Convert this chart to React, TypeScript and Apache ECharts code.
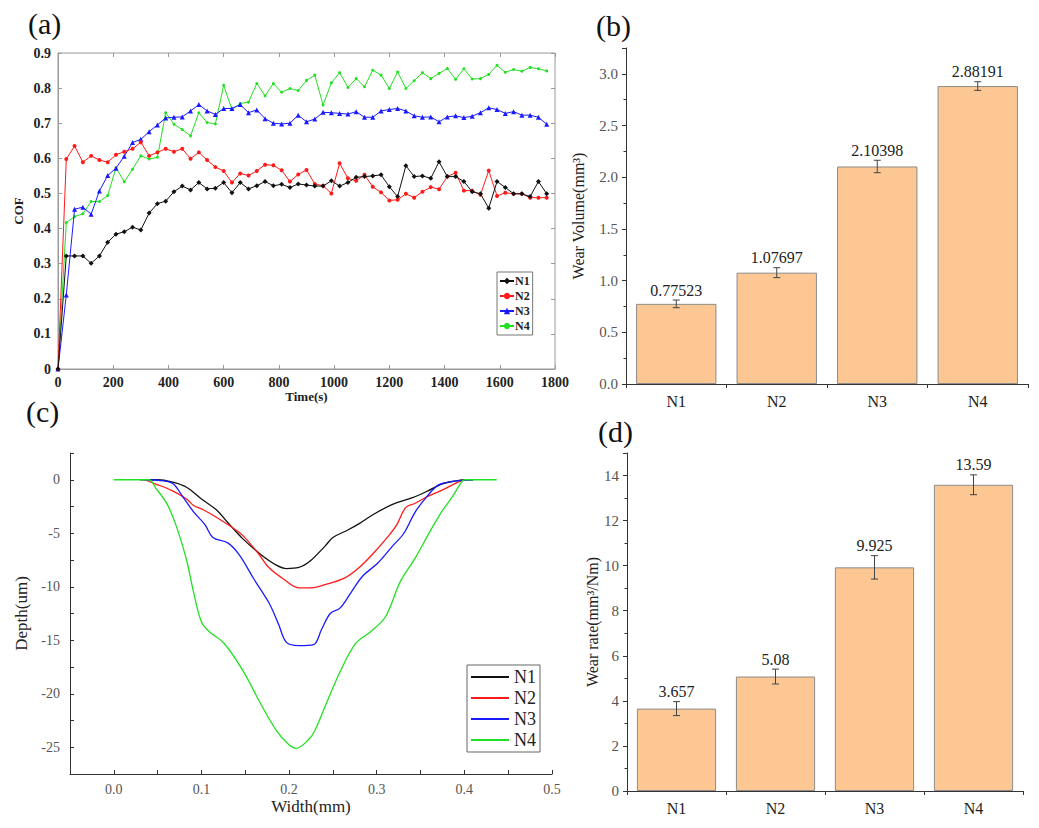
import React, { useEffect, useRef } from 'react';
import * as echarts from 'echarts';

// ---------- (a) COF vs time ----------
const TIME = [0, 30, 60, 90, 120, 150, 180, 210, 240, 270, 300, 330, 360, 390, 420, 450, 480, 510, 540, 570,
  600, 630, 660, 690, 720, 750, 780, 810, 840, 870, 900, 930, 960, 990, 1020, 1050, 1080, 1110, 1140, 1170,
  1200, 1230, 1260, 1290, 1320, 1350, 1380, 1410, 1440, 1470, 1500, 1530, 1560, 1590, 1620, 1650, 1680, 1710, 1740, 1770];

const COF_N1 = [0, 0.322, 0.322, 0.322, 0.301, 0.322, 0.361, 0.384, 0.391, 0.404,
  0.396, 0.444, 0.471, 0.478, 0.505, 0.521, 0.51, 0.531, 0.513, 0.515,
  0.531, 0.502, 0.531, 0.513, 0.522, 0.534, 0.522, 0.526, 0.517, 0.527,
  0.524, 0.521, 0.521, 0.536, 0.521, 0.531, 0.546, 0.548, 0.55, 0.553,
  0.519, 0.491, 0.579, 0.548, 0.55, 0.543, 0.59, 0.548, 0.548, 0.534,
  0.505, 0.499, 0.458, 0.534, 0.517, 0.499, 0.499, 0.491, 0.534, 0.499];

const COF_N2 = [0, 0.598, 0.635, 0.589, 0.607, 0.595, 0.589, 0.61, 0.619, 0.627,
  0.646, 0.607, 0.617, 0.627, 0.619, 0.627, 0.599, 0.617, 0.595, 0.575,
  0.564, 0.531, 0.557, 0.551, 0.564, 0.582, 0.58, 0.566, 0.534, 0.554,
  0.567, 0.527, 0.522, 0.5, 0.586, 0.543, 0.536, 0.553, 0.519, 0.503,
  0.48, 0.482, 0.499, 0.488, 0.505, 0.518, 0.512, 0.548, 0.559, 0.508,
  0.508, 0.496, 0.565, 0.493, 0.502, 0.499, 0.499, 0.488, 0.488, 0.488];

const COF_N3 = [0, 0.211, 0.455, 0.461, 0.441, 0.507, 0.551, 0.572, 0.606, 0.645,
  0.654, 0.676, 0.695, 0.715, 0.717, 0.718, 0.735, 0.753, 0.735, 0.725,
  0.742, 0.742, 0.753, 0.73, 0.738, 0.713, 0.7, 0.698, 0.7, 0.723,
  0.704, 0.712, 0.731, 0.73, 0.728, 0.726, 0.733, 0.717, 0.717, 0.735,
  0.739, 0.742, 0.735, 0.721, 0.717, 0.718, 0.704, 0.718, 0.721, 0.716,
  0.72, 0.73, 0.744, 0.739, 0.728, 0.733, 0.723, 0.723, 0.717, 0.697];

const COF_N4 = [0, 0.417, 0.434, 0.442, 0.477, 0.477, 0.494, 0.573, 0.533, 0.569,
  0.607, 0.598, 0.603, 0.73, 0.697, 0.682, 0.664, 0.73, 0.702, 0.698,
  0.808, 0.739, 0.756, 0.76, 0.813, 0.778, 0.813, 0.788, 0.799, 0.793,
  0.822, 0.837, 0.752, 0.815, 0.844, 0.802, 0.827, 0.804, 0.851, 0.837,
  0.799, 0.846, 0.799, 0.821, 0.844, 0.827, 0.842, 0.856, 0.825, 0.855,
  0.826, 0.827, 0.839, 0.865, 0.845, 0.853, 0.848, 0.859, 0.855, 0.849];

// ---------- (b) wear volume ----------
const SAMPLES = ['N1', 'N2', 'N3', 'N4'];
const VOLUME = [0.77523, 1.07697, 2.10398, 2.88191];
const VOLUME_ERR = [0.037, 0.048, 0.06, 0.042];

// ---------- (c) wear track profiles [width mm, depth um] ----------
const PROFILE_N1 = [[0.03, 0], [0.05, 0], [0.066, -0.2], [0.083, -0.7], [0.1, -1.8], [0.117, -2.8], [0.13, -4.0],
  [0.147, -5.5], [0.168, -7.0], [0.186, -8.0], [0.197, -8.3], [0.211, -8.2], [0.224, -7.6], [0.241, -6.2],
  [0.25, -5.4], [0.267, -4.7], [0.28, -4.1], [0.297, -3.2], [0.318, -2.3], [0.34, -1.7], [0.357, -1.1],
  [0.374, -0.4], [0.391, -0.1], [0.4, 0], [0.41, 0]];
const PROFILE_N2 = [[0.035, 0], [0.048, -0.4], [0.066, -1.0], [0.083, -1.8], [0.091, -2.4], [0.102, -2.8],
  [0.117, -3.5], [0.134, -4.4], [0.147, -5.2], [0.164, -6.8], [0.177, -8.2], [0.194, -9.3], [0.211, -10.1],
  [0.224, -10.1], [0.241, -9.8], [0.263, -9.2], [0.28, -8.2], [0.297, -6.8], [0.314, -5.2], [0.323, -4.2],
  [0.333, -2.6], [0.344, -2.2], [0.357, -1.6], [0.374, -1.0], [0.391, -0.3], [0.4, 0]];
const PROFILE_N3 = [[0.035, 0], [0.057, -0.1], [0.068, -0.4], [0.078, -1.5], [0.091, -3.0], [0.104, -4.2],
  [0.113, -5.4], [0.13, -5.9], [0.143, -7.0], [0.16, -9.3], [0.177, -11.5], [0.188, -13.5], [0.197, -15.2],
  [0.211, -15.5], [0.228, -15.4], [0.237, -14.0], [0.247, -12.5], [0.258, -12.0], [0.271, -10.5], [0.284, -9.0],
  [0.301, -7.8], [0.318, -6.2], [0.331, -5.0], [0.344, -3.0], [0.357, -1.6], [0.37, -0.5], [0.383, -0.2],
  [0.4, -0.05], [0.41, 0]];
const PROFILE_N4 = [[0.0, 0], [0.04, 0], [0.048, -0.8], [0.061, -2.3], [0.072, -4.5], [0.083, -7.5], [0.091, -10.5],
  [0.1, -13.3], [0.109, -14.2], [0.126, -15.3], [0.147, -17.8], [0.168, -21.0], [0.186, -23.5], [0.199, -24.7],
  [0.208, -25.1], [0.221, -24.4], [0.229, -23.5], [0.242, -21.0], [0.259, -17.8], [0.276, -15.3], [0.293, -14.2],
  [0.31, -12.8], [0.327, -9.5], [0.344, -7.3], [0.361, -4.8], [0.374, -3.0], [0.387, -1.5], [0.396, -0.3],
  [0.4, 0], [0.437, 0]];

// ---------- (d) wear rate ----------
const RATE = [3.657, 5.08, 9.925, 13.59];
const RATE_ERR = [0.31, 0.33, 0.52, 0.44];

const SERIF = '"Liberation Serif", "Times New Roman", serif';
const COLORS = ['#111111', '#ff1a1a', '#1a1aff', '#22e022'];

const isMult = (v: number, step: number) => Math.abs(v / step - Math.round(v / step)) < 1e-6;

function errorSeries(xi: number, yi: number, vals: number[], errs: number[]) {
  return {
    type: 'custom',
    xAxisIndex: xi,
    yAxisIndex: yi,
    z: 10,
    silent: true,
    data: vals.map((v, i) => [i, v - errs[i], v + errs[i], v]),
    renderItem: (params: any, api: any) => {
      const i = api.value(0);
      const lo = api.coord([i, api.value(1)]);
      const hi = api.coord([i, api.value(2)]);
      const hw = 3.5;
      const st = { stroke: '#444', lineWidth: 1 };
      return {
        type: 'group',
        children: [
          { type: 'line', shape: { x1: lo[0], y1: lo[1], x2: hi[0], y2: hi[1] }, style: st },
          { type: 'line', shape: { x1: lo[0] - hw, y1: lo[1], x2: lo[0] + hw, y2: lo[1] }, style: st },
          { type: 'line', shape: { x1: hi[0] - hw, y1: hi[1], x2: hi[0] + hw, y2: hi[1] }, style: st },
          {
            type: 'text', x: hi[0], y: hi[1] - 2,
            style: {
              text: String(vals[i]), align: 'center', verticalAlign: 'bottom',
              fontSize: 16, fontFamily: SERIF, fill: '#222',
            },
          },
        ],
      };
    },
  };
}

function buildOption() {
  const pair = (arr: number[]) => arr.map((v, i) => [TIME[i], v]);
  const cofSeries = [COF_N1, COF_N2, COF_N3, COF_N4].map((arr, k) => ({
    name: SAMPLES[k],
    type: 'line',
    xAxisIndex: 0,
    yAxisIndex: 0,
    data: pair(arr),
    symbol: ['diamond', 'circle', 'triangle', 'circle'][k],
    symbolSize: [5, 4, 5, 3][k],
    lineStyle: { width: 1, color: COLORS[k] },
    itemStyle: { color: COLORS[k] },
    z: 5 - k,
  }));
  const profSeries = [PROFILE_N1, PROFILE_N2, PROFILE_N3, PROFILE_N4].map((arr, k) => ({
    name: 'c-' + SAMPLES[k],
    type: 'line',
    xAxisIndex: 3,
    yAxisIndex: 3,
    data: arr,
    smooth: 0.35,
    symbol: 'none',
    lineStyle: { width: 1.3, color: COLORS[k] },
    itemStyle: { color: COLORS[k] },
  }));

  const aLabel = { fontFamily: SERIF, fontWeight: 'bold', fontSize: 14, color: '#222' };
  const grayLabel = { fontFamily: SERIF, fontSize: 15, color: '#555' };
  const lineDark = { lineStyle: { color: '#333', width: 1 } };
  const lineGray = { lineStyle: { color: '#9a9a9a', width: 1 } };

  return {
    animation: false,
    backgroundColor: '#ffffff',
    graphic: [
      { type: 'text', left: 28, top: 8, style: { text: '(a)', fontSize: 30, fontFamily: SERIF, fill: '#111' } },
      { type: 'text', left: 596, top: 10, style: { text: '(b)', fontSize: 30, fontFamily: SERIF, fill: '#111' } },
      { type: 'text', left: 26, top: 396, style: { text: '(c)', fontSize: 30, fontFamily: SERIF, fill: '#111' } },
      { type: 'text', left: 598, top: 416, style: { text: '(d)', fontSize: 30, fontFamily: SERIF, fill: '#111' } },
    ],
    grid: [
      { left: 58, top: 53, width: 497, height: 316, show: true, borderColor: '#9a9a9a', borderWidth: 1, backgroundColor: 'transparent' },
      { left: 626, top: 48, width: 402, height: 336 },
      { left: 70, top: 453, width: 482, height: 321 },
      { left: 627, top: 453, width: 396, height: 338 },
    ],
    legend: [
      {
        data: SAMPLES,
        orient: 'vertical',
        left: 497,
        top: 272,
        padding: [3, 3, 3, 2],
        itemGap: 3,
        itemWidth: 14,
        itemHeight: 8,
        borderColor: '#777',
        borderWidth: 1,
        backgroundColor: '#fff',
        textStyle: { fontFamily: SERIF, fontSize: 12, fontWeight: 'bold', color: '#222', padding: [0, 0, 0, -4] },
        selectedMode: false,
      },
      {
        data: SAMPLES.map((s) => ({ name: 'c-' + s, icon: 'rect' })),
        formatter: (name: string) => name.replace('c-', ''),
        orient: 'vertical',
        left: 467,
        top: 665,
        padding: [3, 4, 3, 4],
        itemGap: 3,
        itemWidth: 38,
        itemHeight: 2,
        borderColor: '#666',
        borderWidth: 1,
        backgroundColor: '#fff',
        textStyle: { fontFamily: SERIF, fontSize: 18, color: '#222', lineHeight: 18 },
        selectedMode: false,
      },
    ],
    xAxis: [
      {
        gridIndex: 0, type: 'value', min: 0, max: 1800, interval: 200,
        name: 'Time(s)', nameLocation: 'middle', nameGap: 17,
        nameTextStyle: { fontFamily: SERIF, fontWeight: 'bold', fontSize: 13, color: '#222' },
        axisLine: { show: true, onZero: false, ...lineGray },
        axisTick: { show: true, inside: true, length: 4, ...lineGray },
        axisLabel: { ...aLabel, margin: 6, formatter: (v: number) => String(v) },
        splitLine: { show: false },
      },
      {
        gridIndex: 0, type: 'value', min: 0, max: 1800, interval: 200, position: 'top',
        axisLine: { show: false, onZero: false },
        axisTick: { show: true, inside: true, length: 4, ...lineGray },
        axisLabel: { show: false },
        splitLine: { show: false },
      },
      {
        gridIndex: 1, type: 'category', data: SAMPLES,
        axisLine: { show: true, ...lineDark },
        axisTick: { show: true, alignWithLabel: false, length: 4, ...lineDark },
        axisLabel: { fontFamily: SERIF, fontSize: 16, color: '#222', margin: 9 },
        splitLine: { show: false },
      },
      {
        gridIndex: 2, type: 'value', min: -0.05, max: 0.5, interval: 0.05,
        name: 'Width(mm)', nameLocation: 'middle', nameGap: 24,
        nameTextStyle: { fontFamily: SERIF, fontSize: 17, color: '#222' },
        axisLine: { show: true, onZero: false, ...lineDark },
        axisTick: { show: true, inside: true, length: 4, ...lineDark },
        axisLabel: {
          ...grayLabel, fontSize: 14, margin: 8,
          formatter: (v: number) => (isMult(v, 0.1) ? (Math.abs(v) < 1e-9 ? 0 : v).toFixed(1) : ''),
        },
        splitLine: { show: false },
      },
      {
        gridIndex: 3, type: 'category', data: SAMPLES,
        axisLine: { show: true, ...lineDark },
        axisTick: { show: true, alignWithLabel: false, length: 4, ...lineDark },
        axisLabel: { fontFamily: SERIF, fontSize: 16, color: '#222', margin: 9 },
        splitLine: { show: false },
      },
    ],
    yAxis: [
      {
        gridIndex: 0, type: 'value', min: 0, max: 0.9, interval: 0.1,
        name: 'COF', nameLocation: 'middle', nameGap: 33,
        nameTextStyle: { fontFamily: SERIF, fontWeight: 'bold', fontSize: 13, color: '#222' },
        axisLine: { show: true, onZero: false, ...lineGray },
        axisTick: { show: true, inside: true, length: 4, ...lineGray },
        axisLabel: { ...aLabel, margin: 7, formatter: (v: number) => (v === 0 ? '0' : v.toFixed(1)) },
        splitLine: { show: false },
      },
      {
        gridIndex: 0, type: 'value', min: 0, max: 0.9, interval: 0.1, position: 'right',
        axisLine: { show: false, onZero: false },
        axisTick: { show: true, inside: true, length: 4, ...lineGray },
        axisLabel: { show: false },
        splitLine: { show: false },
      },
      {
        gridIndex: 1, type: 'value', min: 0, max: 3.25, interval: 0.5,
        name: 'Wear Volume(mm³)', nameLocation: 'middle', nameGap: 40,
        nameTextStyle: { fontFamily: SERIF, fontSize: 16, color: '#222' },
        axisLine: { show: true, onZero: false, ...lineDark },
        axisTick: { show: true, length: 4, ...lineDark },
        minorTick: { show: true, splitNumber: 2, length: 2.5, lineStyle: { color: '#333' } },
        axisLabel: { ...grayLabel, margin: 8, formatter: (v: number) => (isMult(v, 0.5) ? v.toFixed(1) : '') },
        splitLine: { show: false },
      },
      {
        gridIndex: 2, type: 'value', min: -27.5, max: 2.5, interval: 2.5,
        name: 'Depth(um)', nameLocation: 'middle', nameGap: 40,
        nameTextStyle: { fontFamily: SERIF, fontSize: 17, color: '#222' },
        axisLine: { show: true, onZero: false, ...lineDark },
        axisTick: { show: true, inside: true, length: 4, ...lineDark },
        axisLabel: {
          ...grayLabel, fontSize: 14, margin: 10,
          formatter: (v: number) => (isMult(v, 5) ? String(Math.round(v)) : ''),
        },
        splitLine: { show: false },
      },
      {
        gridIndex: 3, type: 'value', min: 0, max: 15, interval: 2,
        name: 'Wear rate(mm³/Nm)', nameLocation: 'middle', nameGap: 27,
        nameTextStyle: { fontFamily: SERIF, fontSize: 16, color: '#222' },
        axisLine: { show: true, onZero: false, ...lineDark },
        axisTick: { show: true, length: 4, ...lineDark },
        minorTick: { show: true, splitNumber: 2, length: 2.5, lineStyle: { color: '#333' } },
        axisLabel: { ...grayLabel, margin: 8, formatter: (v: number) => (isMult(v, 2) ? String(v) : '') },
        splitLine: { show: false },
      },
    ],
    series: [
      ...cofSeries,
      {
        type: 'bar', xAxisIndex: 2, yAxisIndex: 2, data: VOLUME,
        barCategoryGap: '20%',
        itemStyle: { color: '#fcc793', borderColor: '#8c8c8c', borderWidth: 1 },
      },
      errorSeries(2, 2, VOLUME, VOLUME_ERR),
      ...profSeries,
      {
        type: 'bar', xAxisIndex: 4, yAxisIndex: 4, data: RATE,
        barCategoryGap: '20%',
        itemStyle: { color: '#fcc793', borderColor: '#8c8c8c', borderWidth: 1 },
      },
      errorSeries(4, 4, RATE, RATE_ERR),
    ],
  };
}

export default function App() {
  const ref = useRef<HTMLDivElement>(null);
  useEffect(() => {
    if (!ref.current) return;
    const chart = echarts.init(ref.current, null, { renderer: 'svg' });
    chart.setOption(buildOption() as any);
    return () => chart.dispose();
  }, []);
  return (
    <div
      ref={ref}
      style={{ position: 'fixed', left: 0, top: 0, width: 1039, height: 828, background: '#fff' }}
    />
  );
}
